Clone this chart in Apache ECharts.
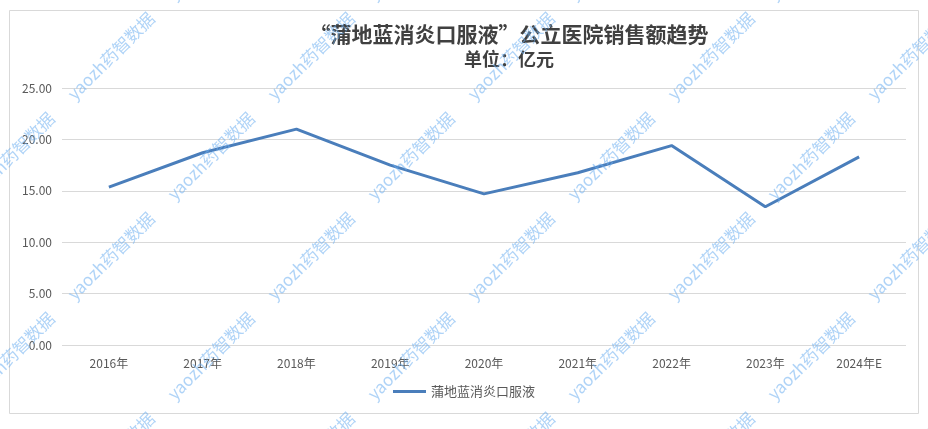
<!DOCTYPE html>
<html><head><meta charset="utf-8">
<script src="https://cdn.jsdelivr.net/npm/echarts@6/dist/echarts.min.js"></script>
<style>html,body{margin:0;padding:0;background:#fff}#c{width:928px;height:429px}</style>
</head><body><div id="c"></div>
<script>
const categories = ['2016年','2017年','2018年','2019年','2020年','2021年','2022年','2023年','2024年E'];
const seriesName = '蒲地蓝消炎口服液';
const values = [15.35, 18.7, 21.0, 17.5, 14.7, 16.75, 19.4, 13.45, 18.3];
const titleText = '“蒲地蓝消炎口服液”公立医院销售额趋势';
const subtitleText = '单位：亿元';
const watermarkText = 'yaozh药智数据';

const chart = echarts.init(document.getElementById('c'));
const FONT = '"Noto Sans CJK SC", "Noto Sans", sans-serif';

const marks = [];
for (let r = -1; r <= 5; r++) {
  for (let i = -1; i <= 5; i++) {
    const x = 111 + 200 * i + (r % 2 !== 0 ? 100 : 0);
    const y = 56 + 100 * r;
    if (x < -80 || x > 1000) continue;
    marks.push({
      type: 'text', x: x, y: y, rotation: Math.PI / 4, z: 100, silent: true,
      style: { text: watermarkText, fill: 'rgba(110,175,240,0.55)', font: '17px ' + FONT,
               textAlign: 'center', textVerticalAlign: 'middle' }
    });
  }
}

chart.setOption({
  backgroundColor: '#fff',
  animation: false,
  title: [
    { text: titleText, left: 504, top: 19, textAlign: 'center',
      textStyle: { fontFamily: FONT, fontSize: 21, fontWeight: 'bold', color: '#404040' } },
    { text: subtitleText, left: 504, top: 45, textAlign: 'center',
      textStyle: { fontFamily: FONT, fontSize: 18, fontWeight: 'bold', color: '#404040' } }
  ],
  legend: {
    data: [seriesName], bottom: 26, left: 'center', itemWidth: 33, itemHeight: 3, itemGap: 5,
    icon: 'rect',
    textStyle: { fontFamily: FONT, fontSize: 13, color: '#595959' }
  },
  grid: { left: 62, right: 22, top: 88, bottom: 84 },
  xAxis: {
    type: 'category', data: categories, boundaryGap: true,
    axisLine: { show: false }, axisTick: { show: false },
    axisLabel: { fontFamily: FONT, fontSize: 12, color: '#595959', margin: 12 }
  },
  yAxis: {
    type: 'value', min: 0, max: 25, interval: 5,
    axisLine: { show: false }, axisTick: { show: false },
    splitLine: { lineStyle: { color: '#d9d9d9', width: 1 } },
    axisLabel: { fontFamily: FONT, fontSize: 12, color: '#595959', margin: 10,
                 formatter: v => v.toFixed(2) }
  },
  series: [{
    name: seriesName, type: 'line', data: values, showSymbol: false, symbol: 'none',
    lineStyle: { color: '#4a7ebb', width: 3 }, itemStyle: { color: '#4a7ebb' }
  }],
  graphic: [
    { type: 'rect', shape: { x: 9.5, y: 10.5, width: 909, height: 403 }, z: -1, silent: true,
      style: { fill: 'none', stroke: '#d9d9d9', lineWidth: 1 } }
  ].concat(marks)
});
</script></body></html>
